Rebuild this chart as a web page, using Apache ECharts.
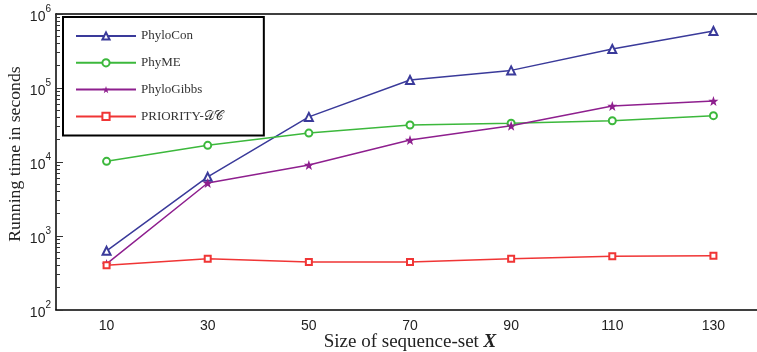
<!DOCTYPE html>
<html><head><meta charset="utf-8">
<script src="https://cdn.jsdelivr.net/npm/echarts@6/dist/echarts.min.js"></script>
<style>html,body{margin:0;padding:0;background:#fff}#c{width:757px;height:352px}</style>
</head><body><div id="c"></div>
<script>
const categories = ['10','30','50','70','90','110','130'];
const phyloCon = [630, 6300, 40700, 128000, 173000, 336000, 589000];
const phyME = [10200, 16800, 24600, 31600, 33400, 36100, 42300];
const phyloGibbs = [419, 5200, 9100, 19800, 31000, 57100, 66700];
const priority = [402, 493, 445, 445, 493, 532, 542];
const seriesNames = ['PhyloCon', 'PhyME', 'PhyloGibbs', 'PRIORITY-𝒟𝒞'];
const minorTickExp = [];
for (let e = 2; e < 6; e++) for (let k = 2; k <= 9; k++) minorTickExp.push(e + Math.log10(k));

const star = 'path://M0,-10 L2.35,-3.24 L9.51,-3.09 L3.8,1.24 L5.88,8.09 L0,4 L-5.88,8.09 L-3.8,1.24 L-9.51,-3.09 L-2.35,-3.24 Z';
const sans = 'Liberation Sans';
const serif = 'Liberation Serif, DejaVu Serif, serif';
const chart = echarts.init(document.getElementById('c'));
const yLabel = v => '{b|10}{s|' + Math.round(Math.log10(v)) + '}';
const logAxisBase = {
  type: 'log', logBase: 10, min: 100, max: 1e6, gridIndex: 0,
  splitLine: {show: false}, minorSplitLine: {show: false}
};
chart.setOption({
  animation: false,
  backgroundColor: '#fff',
  grid: {left: 56, top: 14, right: -7, bottom: 42, containLabel: false, outerBoundsMode: 'none'},
  legend: {
    orient: 'vertical', left: 63, top: 17,
    backgroundColor: '#fff', borderColor: '#000', borderWidth: 2, borderRadius: 0,
    padding: [12, 41, 12, 12],
    itemWidth: 60, itemHeight: 9, itemGap: 12.8,
    textStyle: {fontFamily: serif, fontSize: 13, color: '#333', lineHeight: 14},
    data: seriesNames
  },
  xAxis: [{
    type: 'category', data: categories, position: 'bottom', boundaryGap: true,
    axisLine: {lineStyle: {color: '#000', width: 1.5}},
    axisTick: {inside: true, alignWithLabel: true, length: 6, lineStyle: {color: '#333'}},
    axisLabel: {fontFamily: sans, fontSize: 14, color: '#222', margin: 9},
    name: 'Size of sequence-set {x|X}', nameLocation: 'middle', nameGap: 22, nameMoveOverlap: false,
    nameTextStyle: {fontFamily: serif, fontSize: 19, lineHeight: 20, color: '#222',
      rich: {x: {fontFamily: serif, fontSize: 19, lineHeight: 20, fontWeight: 'bold', fontStyle: 'italic', color: '#222'}}},
    splitLine: {show: false}
  }, {
    type: 'category', data: categories, position: 'top', boundaryGap: true,
    axisLine: {lineStyle: {color: '#000', width: 1.5}},
    axisTick: {inside: true, alignWithLabel: true, length: 6, lineStyle: {color: '#333'}},
    axisLabel: {show: false}, splitLine: {show: false}
  }],
  yAxis: [Object.assign({}, logAxisBase, {
    position: 'left',
    axisLine: {show: true, lineStyle: {color: '#000', width: 1.5}},
    axisTick: {show: true, inside: true, length: 7, lineStyle: {color: '#333'}},
    axisLabel: {formatter: yLabel, margin: 5,
      rich: {b: {fontFamily: sans, fontSize: 14, color: '#222', padding: [6, 0, 0, 0]},
             s: {fontFamily: sans, fontSize: 10, color: '#222', verticalAlign: 'top', padding: [0, 0, 6, 0]}}},
    name: 'Running time in seconds', nameLocation: 'middle', nameGap: 31, nameMoveOverlap: false,
    nameTextStyle: {fontFamily: serif, fontSize: 17.7, lineHeight: 20, color: '#222', padding: [0, 0, 0, 16]}
  }), {
    type: 'value', min: 2, max: 6, position: 'left', gridIndex: 0,
    splitLine: {show: false},
    axisLine: {show: false},
    axisTick: {show: true, inside: true, length: 4, customValues: minorTickExp, lineStyle: {color: '#333'}},
    axisLabel: {show: false}
  }, Object.assign({}, logAxisBase, {
    position: 'right',
    axisLine: {show: true, lineStyle: {color: '#000', width: 1.5}},
    axisTick: {show: true, inside: true, length: 7, lineStyle: {color: '#333'}},
    axisLabel: {show: false}
  })],
  series: [{
    name: seriesNames[0], type: 'line', data: phyloCon,
    symbol: 'emptyTriangle', symbolSize: 8,
    lineStyle: {color: '#3a3a9a', width: 1.5},
    itemStyle: {color: '#3a3a9a', borderWidth: 1.5}
  }, {
    name: seriesNames[1], type: 'line', data: phyME,
    symbol: 'emptyCircle', symbolSize: 7,
    lineStyle: {color: '#3cb83c', width: 1.5},
    itemStyle: {color: '#3cb83c', borderWidth: 1.5}
  }, {
    name: seriesNames[2], type: 'line', data: phyloGibbs,
    symbol: star, symbolSize: 10,
    lineStyle: {color: '#8e1f8e', width: 1.5},
    itemStyle: {color: '#8e1f8e'}
  }, {
    name: seriesNames[3], type: 'line', data: priority,
    symbol: 'emptyRect', symbolSize: 6,
    lineStyle: {color: '#f03535', width: 1.5},
    itemStyle: {color: '#f03535', borderWidth: 1.5}
  }]
});
</script></body></html>
